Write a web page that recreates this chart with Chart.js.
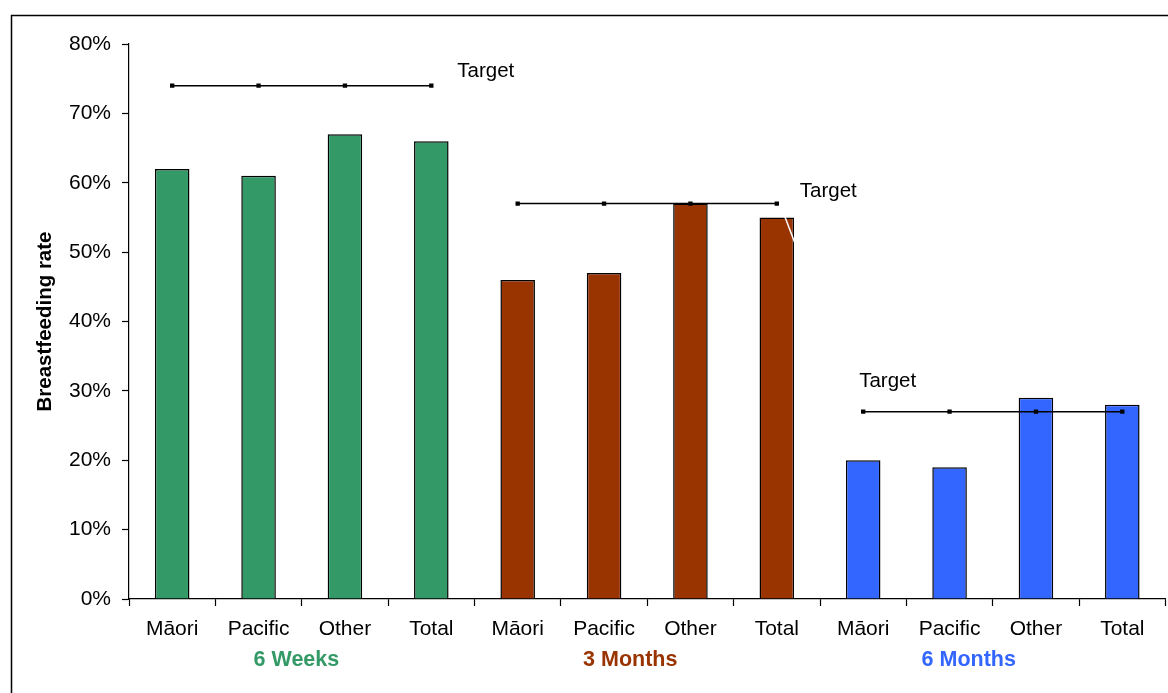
<!DOCTYPE html>
<html>
<head>
<meta charset="utf-8">
<script src="https://cdn.jsdelivr.net/npm/chart.js@4/dist/chart.umd.min.js"></script>
<style>
    html, body { margin: 0; padding: 0; background: #fff; overflow: hidden; }
    #wrap { width: 1171px; height: 693px; }
    canvas { display: block; }
</style>
</head>
<body>
<div id="wrap"><canvas id="bfChart"></canvas></div>
<script>
    // data
    var categories = ["Māori", "Pacific", "Other", "Total", "Māori", "Pacific", "Other", "Total", "Māori", "Pacific", "Other", "Total"];
    var groups = ["6 Weeks", "3 Months", "6 Months"];
    var groupColors = ["#339966", "#993300", "#3366FF"];
    var rates = [62, 61, 67, 66, 46, 47, 57, 55, 20, 19, 29, 28];
    var targets = [74, 57, 27];
    var yTicks = [0, 10, 20, 30, 40, 50, 60, 70, 80];

    var font = "'Liberation Sans', Arial, sans-serif";

    // bar colours per group
    var barColors = [];
    for (var i = 0; i < rates.length; i++) {
        barColors.push(groupColors[Math.floor(i / 4)]);
    }

    // one line per group, broken between groups
    var targetSets = [];
    for (var g = 0; g < targets.length; g++) {
        var row = [];
        for (var j = 0; j < categories.length; j++) {
            row.push(Math.floor(j / 4) === g ? targets[g] : null);
        }
        targetSets.push({
            type: "line",
            label: "Target " + groups[g],
            data: row,
            borderColor: "#000",
            borderWidth: 1.5,
            pointStyle: "rect",
            pointRadius: 2,
            pointBackgroundColor: "#000",
            pointBorderColor: "#000",
            spanGaps: false,
            order: 0
        });
    }

    var framePlugin = {
        id: "frame",
        beforeDraw: function (chart) {
            var ctx = chart.ctx;
            ctx.save();
            ctx.fillStyle = "#fff";
            ctx.fillRect(0, 0, chart.width, chart.height);
            ctx.strokeStyle = "#000";
            ctx.lineWidth = 1.5;
            ctx.strokeRect(11.5, 15.5, chart.width + 20, chart.height + 20);
            ctx.restore();
        }
    };

    var labelPlugin = {
        id: "groupLabels",
        afterDraw: function (chart) {
            var ctx = chart.ctx;
            var x = chart.scales.x;
            var y = chart.scales.y;
            ctx.save();
            // group names under the category labels, left-anchored near the 2nd category
            ctx.font = "bold 21.5px " + font;
            ctx.textAlign = "left";
            ctx.textBaseline = "middle";
            var shift = [-5, -21, -28];
            for (var g = 0; g < groups.length; g++) {
                ctx.fillStyle = groupColors[g];
                ctx.fillText(groups[g], x.getPixelForValue(g * 4 + 1) + shift[g], 660);
            }
            // "Target" labels beside each line
            ctx.font = "20.5px " + font;
            ctx.fillStyle = "#000";
            var tx = [x.getPixelForValue(3) + 26, x.getPixelForValue(7) + 23, x.getPixelForValue(8) - 4];
            var ty = [y.getPixelForValue(targets[0]) - 14, y.getPixelForValue(targets[1]) - 12, y.getPixelForValue(targets[2]) - 30];
            for (var k = 0; k < targets.length; k++) {
                ctx.fillText("Target", tx[k], ty[k]);
            }
            // leftover white leader line on the 3 Months total bar
            var bx = x.getPixelForValue(7);
            var by = y.getPixelForValue(rates[7]);
            ctx.strokeStyle = "#fff";
            ctx.lineWidth = 1.5;
            ctx.beginPath();
            ctx.moveTo(bx + 8, by - 1);
            ctx.lineTo(bx + 19, by + 28);
            ctx.stroke();
            ctx.restore();
        }
    };

    var chart = new Chart(document.getElementById("bfChart"), {
        type: "bar",
        data: {
            labels: categories,
            datasets: [{
                label: "Breastfeeding rate",
                data: rates,
                backgroundColor: barColors,
                borderColor: "#000",
                borderWidth: 1.5,
                barPercentage: 0.4,
                categoryPercentage: 1.0,
                order: 1
            }].concat(targetSets)
        },
        options: {
            responsive: true,
            maintainAspectRatio: false,
            animation: false,
            layout: { padding: { top: 44, right: 0, bottom: 0, left: 0 } },
            plugins: {
                legend: { display: false },
                tooltip: { enabled: false }
            },
            scales: {
                x: {
                    offset: true,
                    grid: {
                        offset: true,
                        drawOnChartArea: false,
                        color: "#000",
                        tickLength: 7,
                        tickWidth: 1.2
                    },
                    border: { color: "#000", width: 1.2 },
                    ticks: {
                        color: "#000",
                        font: { family: font, size: 21 },
                        padding: 11,
                        maxRotation: 0,
                        autoSkip: false
                    },
                    afterFit: function (scale) { scale.height = 94; }
                },
                y: {
                    min: 0,
                    max: 80,
                    afterBuildTicks: function (scale) {
                        scale.ticks = yTicks.map(function (v) { return { value: v }; });
                    },
                    grid: {
                        drawOnChartArea: false,
                        color: "#000",
                        tickLength: 7,
                        tickWidth: 1.2
                    },
                    border: { color: "#000", width: 1.2 },
                    ticks: {
                        color: "#000",
                        font: { family: font, size: 21 },
                        padding: 11,
                        callback: function (v) { return v + "%"; }
                    },
                    title: {
                        display: true,
                        text: "Breastfeeding rate",
                        color: "#000",
                        font: { family: font, size: 20.5, weight: "bold" },
                        padding: { top: 33, bottom: 0 }
                    },
                    afterFit: function (scale) { scale.width = 129; }
                }
            }
        },
        plugins: [framePlugin, labelPlugin]
    });
</script>
</body>
</html>
